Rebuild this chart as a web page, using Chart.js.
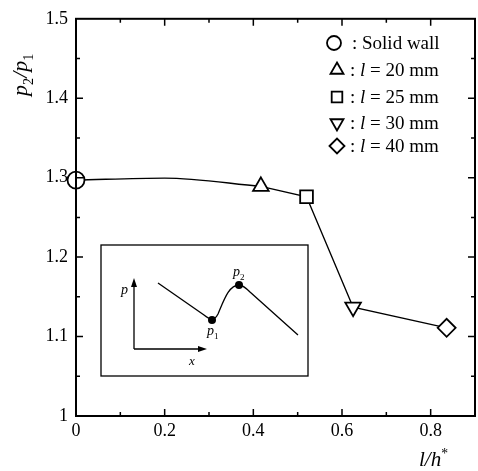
<!DOCTYPE html>
<html>
<head>
<meta charset="utf-8">
<script src="https://cdn.jsdelivr.net/npm/chart.js@4"></script>
<style>
  html, body { margin: 0; padding: 0; background: #fff; }
  #wrap { width: 478px; height: 471px; }
</style>
</head>
<body>
<div id="wrap"><canvas id="c" width="478" height="471"></canvas></div>
<script>
// ---- data ----
const seriesNames = ['Solid wall', 'l = 20 mm', 'l = 25 mm', 'l = 30 mm', 'l = 40 mm'];
const lhValues    = [0, 0.417, 0.52, 0.625, 0.836];      // l/h*
const ratioValues = [1.297, 1.289, 1.276, 1.137, 1.111]; // p2/p1
const markerStyles = ['circle', 'triangle', 'rect', 'triangle', 'rectRot'];
const markerRotations = [0, 0, 0, 180, 0];
// smooth fitted curve between solid wall and l=20 mm
const curveX = [0, 0.2, 0.417];
const curveY = [1.297, 1.2995, 1.289];
const xTickLabels = ['0', '0.2', '0.4', '0.6', '0.8'];
const yTickLabels = ['1', '1.1', '1.2', '1.3', '1.4', '1.5'];

const SERIF = '"Liberation Serif", "DejaVu Serif", serif';

const curveData = curveX.map((x, i) => ({x, y: curveY[i]}));
const straightData = lhValues.slice(1).map((x, i) => ({x, y: ratioValues[i + 1]}));

const datasets = [];
lhValues.forEach((x, i) => {
  datasets.push({
    label: seriesNames[i],
    data: [{x, y: ratioValues[i]}],
    showLine: false,
    pointStyle: markerStyles[i],
    rotation: markerRotations[i],
    pointRadius: i === 0 ? 8.5 : 9,
    pointBackgroundColor: '#fff',
    pointBorderColor: '#000',
    pointBorderWidth: 1.8,
    clip: false,
    order: 1
  });
});
datasets.push({
  label: 'fit',
  data: curveData,
  showLine: true,
  borderColor: '#000',
  borderWidth: 1.4,
  pointRadius: 0,
  tension: 0.4,
  cubicInterpolationMode: 'monotone',
  fill: false,
  order: 2
});
datasets.push({
  label: 'lines',
  data: straightData,
  showLine: true,
  borderColor: '#000',
  borderWidth: 1.4,
  pointRadius: 0,
  tension: 0,
  fill: false,
  order: 2
});

function fmtX(v) {
  const idx = Math.round(v / 0.2);
  if (Math.abs(v - idx * 0.2) < 1e-6 && idx < xTickLabels.length) return xTickLabels[idx];
  return '';
}
function fmtY(v) {
  const idx = Math.round((v - 1) / 0.1);
  if (Math.abs(v - 1 - idx * 0.1) < 1e-6 && idx < yTickLabels.length) return yTickLabels[idx];
  return '';
}

// draw text with italic runs and sub/superscripts
function drawRich(ctx, parts, x, y, size) {
  let cx = x;
  parts.forEach(p => {
    const s = p.sub || p.sup ? size * 0.65 : size;
    ctx.font = (p.it ? 'italic ' : '') + s + 'px ' + SERIF;
    const dy = p.sub ? size * 0.28 : (p.sup ? -size * 0.4 : 0);
    ctx.fillText(p.t, cx, y + dy);
    cx += ctx.measureText(p.t).width;
  });
  return cx;
}

function drawMarker(ctx, style, rot, x, y, r) {
  ctx.save();
  ctx.fillStyle = '#fff';
  ctx.strokeStyle = '#000';
  ctx.lineWidth = 1.8;
  Chart.helpers.drawPoint(ctx, {pointStyle: style, rotation: rot, radius: r, borderWidth: 1.8}, x, y);
  ctx.restore();
}

const decorPlugin = {
  id: 'decor',
  afterDraw(chart) {
    const ctx = chart.ctx;
    const a = chart.chartArea;
    const xs = chart.scales.x, ys = chart.scales.y;
    ctx.save();
    // frame
    ctx.strokeStyle = '#000';
    ctx.lineWidth = 2;
    ctx.strokeRect(a.left, a.top, a.right - a.left, a.bottom - a.top);
    // inward ticks
    ctx.lineWidth = 1.5;
    ctx.beginPath();
    for (let k = 1; k <= 8; k++) {
      const v = k * 0.1;
      const px = xs.getPixelForValue(v);
      const len = k % 2 === 0 ? 7 : 4;
      ctx.moveTo(px, a.bottom); ctx.lineTo(px, a.bottom - len);
      ctx.moveTo(px, a.top); ctx.lineTo(px, a.top + len);
    }
    for (let k = 1; k <= 9; k++) {
      const v = 1 + k * 0.05;
      const py = ys.getPixelForValue(v);
      const len = k % 2 === 0 ? 7 : 4;
      ctx.moveTo(a.left, py); ctx.lineTo(a.left + len, py);
      ctx.moveTo(a.right, py); ctx.lineTo(a.right - len, py);
    }
    ctx.stroke();

    // legend
    ctx.fillStyle = '#000';
    ctx.textBaseline = 'middle';
    ctx.textAlign = 'left';
    const rowsY = [43, 70, 97, 123, 146];
    const symX = 337;
    seriesNames.forEach((name, i) => {
      const y = rowsY[i];
      drawMarker(ctx, markerStyles[i], markerRotations[i], i === 0 ? 334 : symX, y, i === 0 ? 7 : 7.5);
      ctx.fillStyle = '#000';
      if (i === 0) {
        drawRich(ctx, [{t: ': ' + name}], 352, y + 1, 19);
      } else {
        drawRich(ctx, [{t: ': '}, {t: 'l', it: true}, {t: name.slice(1)}], 350, y + 1, 19);
      }
    });

    // axis titles
    ctx.save();
    ctx.translate(27, 96);
    ctx.rotate(-Math.PI / 2);
    ctx.textBaseline = 'alphabetic';
    drawRich(ctx, [{t: 'p', it: true}, {t: '2', sub: true}, {t: '/', it: true}, {t: 'p', it: true}, {t: '1', sub: true}], 0, 0, 22);
    ctx.restore();
    ctx.textBaseline = 'alphabetic';
    drawRich(ctx, [{t: 'l/h', it: true}, {t: '*', sup: true}], 419, 466, 21);

    // inset schematic
    ctx.lineWidth = 1.3;
    ctx.strokeRect(101, 245, 207, 131);
    ctx.beginPath();
    ctx.moveTo(134, 349); ctx.lineTo(134, 284);
    ctx.moveTo(134, 349); ctx.lineTo(200, 349);
    ctx.stroke();
    ctx.beginPath();
    ctx.moveTo(134, 278); ctx.lineTo(131, 287); ctx.lineTo(137, 287); ctx.closePath();
    ctx.moveTo(207, 349); ctx.lineTo(198, 346); ctx.lineTo(198, 352); ctx.closePath();
    ctx.fill();
    ctx.beginPath();
    ctx.moveTo(158, 283);
    ctx.lineTo(204, 315);
    ctx.bezierCurveTo(209, 319, 214, 322, 218, 314);
    ctx.bezierCurveTo(224, 300, 229, 285, 239, 285);
    ctx.bezierCurveTo(243, 285, 246, 288, 250, 292);
    ctx.lineTo(298, 335);
    ctx.stroke();
    ctx.beginPath(); ctx.arc(212, 320, 4, 0, Math.PI * 2); ctx.fill();
    ctx.beginPath(); ctx.arc(239, 285, 4, 0, Math.PI * 2); ctx.fill();
    ctx.textBaseline = 'alphabetic';
    drawRich(ctx, [{t: 'p', it: true}], 121, 294, 14);
    drawRich(ctx, [{t: 'x', it: true}], 189, 365, 13);
    drawRich(ctx, [{t: 'p', it: true}, {t: '1', sub: true}], 207, 335, 14);
    drawRich(ctx, [{t: 'p', it: true}, {t: '2', sub: true}], 233, 276, 14);
    ctx.restore();
  }
};

new Chart(document.getElementById('c'), {
  type: 'scatter',
  data: { datasets },
  options: {
    responsive: false,
    animation: false,
    devicePixelRatio: 1,
    layout: { autoPadding: false, padding: { top: 14, right: 3, left: 0, bottom: 0 } },
    plugins: { legend: { display: false }, tooltip: { enabled: false }, title: { display: false } },
    scales: {
      x: {
        type: 'linear', min: 0, max: 0.9,
        grid: { display: false, drawTicks: false },
        border: { display: false },
        ticks: { stepSize: 0.2, includeBounds: false, autoSkip: false, callback: fmtX, color: '#000', padding: 4, maxRotation: 0,
                 font: { family: SERIF, size: 18 } },
        afterFit(s) { s.height = 55; s.paddingRight = 0; }
      },
      y: {
        type: 'linear', min: 1, max: 1.5,
        grid: { display: false, drawTicks: false },
        border: { display: false },
        ticks: { stepSize: 0.1, autoSkip: false, callback: fmtY, color: '#000', padding: 8,
                 font: { family: SERIF, size: 18 } },
        afterFit(s) { s.width = 76; }
      }
    }
  },
  plugins: [decorPlugin]
});
</script>
</body>
</html>
